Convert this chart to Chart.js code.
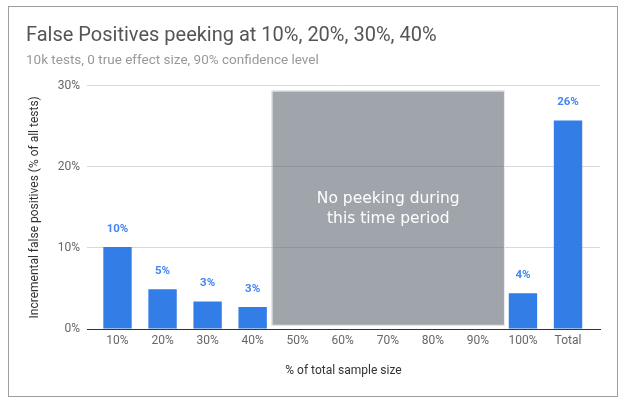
<!DOCTYPE html>
<html>
<head>
<meta charset="utf-8">
<script src="https://cdn.jsdelivr.net/npm/chart.js@4.4.1/dist/chart.umd.min.js"></script>
<style>
html, body { margin: 0; padding: 0; background: #fff; }
#wrap { position: relative; width: 625px; height: 402px; }
#frame { position: absolute; left: 8px; top: 6px; width: 608px; height: 389px; border: 1px solid #9e9e9e; pointer-events: none; }
</style>
</head>
<body>
<div id="wrap">
  <canvas id="peekChart" width="625" height="402"></canvas>
  <div id="frame"></div>
</div>
<script>
// chart data
const categories = ['10%', '20%', '30%', '40%', '50%', '60%', '70%', '80%', '90%', '100%', 'Total'];
const falsePositives = [10.1, 4.9, 3.4, 2.7, 0, 0, 0, 0, 0, 4.4, 25.7];
const yTicks = [0, 10, 20, 30];

// grey "no peeking" block, in category units (x) and % (y)
const noPeekX = [3.42, 8.6];
const noPeekY = [0.4, 29.4];
const noPeekText = ['No peeking during', 'this time period'];

const noPeekBox = {
    id: 'noPeekBox',
    beforeDatasetsDraw(chart) {
        const { ctx, scales: { x, y } } = chart;
        const left = x.getPixelForValue(noPeekX[0]);
        const right = x.getPixelForValue(noPeekX[1]);
        const top = y.getPixelForValue(noPeekY[1]);
        const bottom = y.getPixelForValue(noPeekY[0]);
        ctx.save();
        ctx.fillStyle = 'rgba(90, 100, 110, 0.58)';
        ctx.fillRect(left, top, right - left, bottom - top);
        ctx.strokeStyle = 'rgba(255, 255, 255, 0.8)';
        ctx.lineWidth = 1;
        ctx.strokeRect(left + 0.5, top + 0.5, right - left - 1, bottom - top - 1);
        ctx.fillStyle = '#fff';
        ctx.font = '15.5px "DejaVu Sans"';
        ctx.textAlign = 'center';
        ctx.textBaseline = 'alphabetic';
        const cx = (left + right) / 2;
        const cy = (top + bottom) / 2;
        noPeekText.forEach((line, i) => {
            ctx.fillText(line, cx, cy - 5 + i * 20);
        });
        ctx.restore();
    }
};

const barLabels = {
    id: 'barLabels',
    afterDatasetsDraw(chart) {
        const { ctx } = chart;
        const meta = chart.getDatasetMeta(0);
        ctx.save();
        ctx.fillStyle = '#4285f4';
        ctx.font = 'bold 11.5px Roboto';
        ctx.textAlign = 'center';
        ctx.textBaseline = 'middle';
        meta.data.forEach((bar, i) => {
            const v = falsePositives[i];
            if (!v) return;
            ctx.fillText(Math.round(v) + '%', bar.x, bar.y - 18);
        });
        ctx.restore();
    }
};

const ctx = document.getElementById('peekChart').getContext('2d');

const peekChart = new Chart(ctx, {
    type: 'bar',
    data: {
        datasets: [{
            label: 'False positives',
            data: falsePositives.map((v, i) => ({ x: i, y: v })),
            backgroundColor: '#327de6',
            borderWidth: 0,
            barPercentage: 0.63,
            categoryPercentage: 1
        }]
    },
    options: {
        responsive: false,
        animation: false,
        devicePixelRatio: 1,
        layout: {
            padding: { left: 26, right: 25, top: 0, bottom: 14 }
        },
        plugins: {
            legend: { display: false },
            tooltip: { enabled: false },
            title: {
                display: true,
                text: 'False Positives peeking at 10%, 20%, 30%, 40%',
                align: 'start',
                color: '#555',
                font: { family: 'Roboto', size: 20, weight: 'normal' },
                padding: { top: 24, bottom: 4 }
            },
            subtitle: {
                display: true,
                text: '10k tests, 0 true effect size, 90% confidence level',
                align: 'start',
                color: '#999',
                font: { family: 'Roboto', size: 13.5 },
                padding: { top: 1, bottom: 16.5 }
            }
        },
        scales: {
            x: {
                type: 'linear',
                offset: false,
                min: -0.677,
                max: 10.71,
                afterFit(scale) { scale.height = 59; },
                grid: { display: false, drawTicks: false, offset: false },
                border: { display: true, color: '#333', width: 1 },
                ticks: {
                    stepSize: 1,
                    includeBounds: false,
                    autoSkip: false,
                    maxRotation: 0,
                    padding: 5,
                    color: '#666',
                    font: { family: 'Roboto', size: 12 },
                    callback: (v) => categories[v] ?? ''
                },
                title: {
                    display: true,
                    text: '% of total sample size',
                    color: '#333',
                    font: { family: 'Roboto', size: 12 },
                    padding: { top: 0, bottom: 10 }
                }
            },
            y: {
                min: yTicks[0],
                max: yTicks[yTicks.length - 1],
                afterFit(scale) { scale.width = 61; },
                afterBuildTicks(scale) { scale.ticks = yTicks.map(v => ({ value: v })); },
                grid: { color: '#d9d9d9', drawTicks: false },
                border: { display: false },
                ticks: {
                    padding: 7,
                    color: '#666',
                    font: { family: 'Roboto', size: 12 },
                    callback: (v) => v + '%'
                },
                title: {
                    display: true,
                    text: 'Incremental false positives (% of all tests)',
                    color: '#333',
                    font: { family: 'Roboto', size: 12 },
                    padding: { top: 2, bottom: 0 }
                }
            }
        }
    },
    plugins: [noPeekBox, barLabels]
});
</script>
</body>
</html>
